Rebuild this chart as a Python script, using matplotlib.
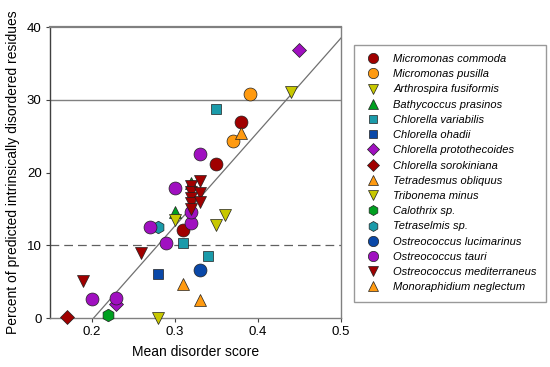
import matplotlib
matplotlib.use("Agg")
import matplotlib.pyplot as plt
import numpy as np

plt.rcParams['font.family'] = ['Liberation Sans', 'DejaVu Sans']

species = [
    "Micromonas commoda", "Micromonas pusilla", "Arthrospira fusiformis",
    "Bathycoccus prasinos", "Chlorella variabilis", "Chlorella ohadii",
    "Chlorella protothecoides", "Chlorella sorokiniana", "Tetradesmus obliquus",
    "Tribonema minus", "Calothrix sp.", "Tetraselmis sp.",
    "Ostreococcus lucimarinus", "Ostreococcus tauri", "Ostreococcus mediterraneus",
    "Monoraphidium neglectum",
]
colors = ["#A00000", "#FF9A10", "#C8C800", "#00A020", "#1B9BAA", "#0A48A8",
          "#A010C0", "#A00000", "#FF9A10", "#C8C800", "#00A020", "#1B9BAA",
          "#0A48A8", "#A010C0", "#A00000", "#FF9A10"]
markers = ["o", "o", "v", "^", "s", "s", "D", "D", "^", "v", "h", "h", "o", "o", "v", "^"]

xs = [
    [0.38, 0.35, 0.31],
    [0.39, 0.37],
    [0.44, 0.36, 0.35],
    [0.30, 0.32],
    [0.35, 0.31, 0.34],
    [0.28],
    [0.45, 0.23],
    [0.17],
    [0.38],
    [0.30, 0.28],
    [0.22],
    [0.28],
    [0.33],
    [0.27, 0.29, 0.32, 0.32, 0.30, 0.33, 0.20, 0.23],
    [0.32, 0.32, 0.32, 0.32, 0.32, 0.33, 0.33, 0.33, 0.26, 0.19],
    [0.31, 0.33],
]
ys = [
    [27.0, 21.2, 12.1],
    [30.8, 24.3],
    [31.1, 14.2, 12.8],
    [14.6, 18.6],
    [28.7, 10.3, 8.5],
    [6.0],
    [36.8, 1.9],
    [0.2],
    [25.5],
    [13.5, 0.0],
    [0.4],
    [12.5],
    [6.6],
    [12.5, 10.3, 13.0, 14.6, 17.9, 22.5, 2.6, 2.8],
    [18.2, 17.3, 16.5, 15.8, 15.0, 18.8, 17.2, 16.0, 9.0, 5.1],
    [4.7, 2.5],
]

fit_slope = 129.4
fit_intercept = -26.2
ref_lines = [30, 10]

fig = plt.figure(figsize=(5.5, 3.67), dpi=100)
ax = fig.add_axes([0.0909, 0.1335, 0.529, 0.7925])

ax.axhline(ref_lines[0], color="#808080", lw=1.0, zorder=1)
ax.axhline(ref_lines[1], color="#606060", lw=0.9, ls=(0, (7, 4)), zorder=1)

x0 = -fit_intercept / fit_slope
fx = np.array([x0, 0.5])
ax.plot(fx, fit_slope * fx + fit_intercept, color="#707070", lw=0.9, zorder=1)

msize = {"o": 9.3, "v": 9.0, "^": 9.0, "s": 7.8, "D": 7.6, "h": 9.0}
for name, c, m, x, y in zip(species, colors, markers, xs, ys):
    ax.plot(x, y, ls="none", marker=m, ms=msize[m], mfc=c, mec="#202020",
            mew=0.5, label=name, clip_on=False, zorder=3)

ax.set_xlim(0.15, 0.5)
ax.set_ylim(0, 40)
ax.set_xticks([0.2, 0.3, 0.4, 0.5])
ax.set_xticklabels(["0.2", "0.3", "0.4", "0.5"])
ax.set_yticks([0, 10, 20, 30, 40])
ax.tick_params(direction="out", length=3, width=0.8, colors="#404040",
               labelsize=9.5, labelcolor="black", pad=3)
for s in ax.spines.values():
    s.set_color("#808080")
    s.set_linewidth(1.0)
ax.spines["left"].set_color("#404040")
ax.spines["top"].set_linewidth(1.6)

ax.set_xlabel("Mean disorder score", fontsize=10, labelpad=5)
ax.set_ylabel("Percent of predicted intrinsically disordered residues", fontsize=10, labelpad=5)

leg = ax.legend(loc="upper left", bbox_to_anchor=(1.045, 0.94), frameon=True,
                fancybox=False, edgecolor="#808080", prop={"style": "italic", "size": 8.0},
                labelspacing=0.47, handletextpad=0.9, borderpad=0.85, handlelength=1.8,
                borderaxespad=0.0, markerscale=0.8)
leg.get_frame().set_linewidth(1.0)

fig.savefig("out.png", dpi=100)
